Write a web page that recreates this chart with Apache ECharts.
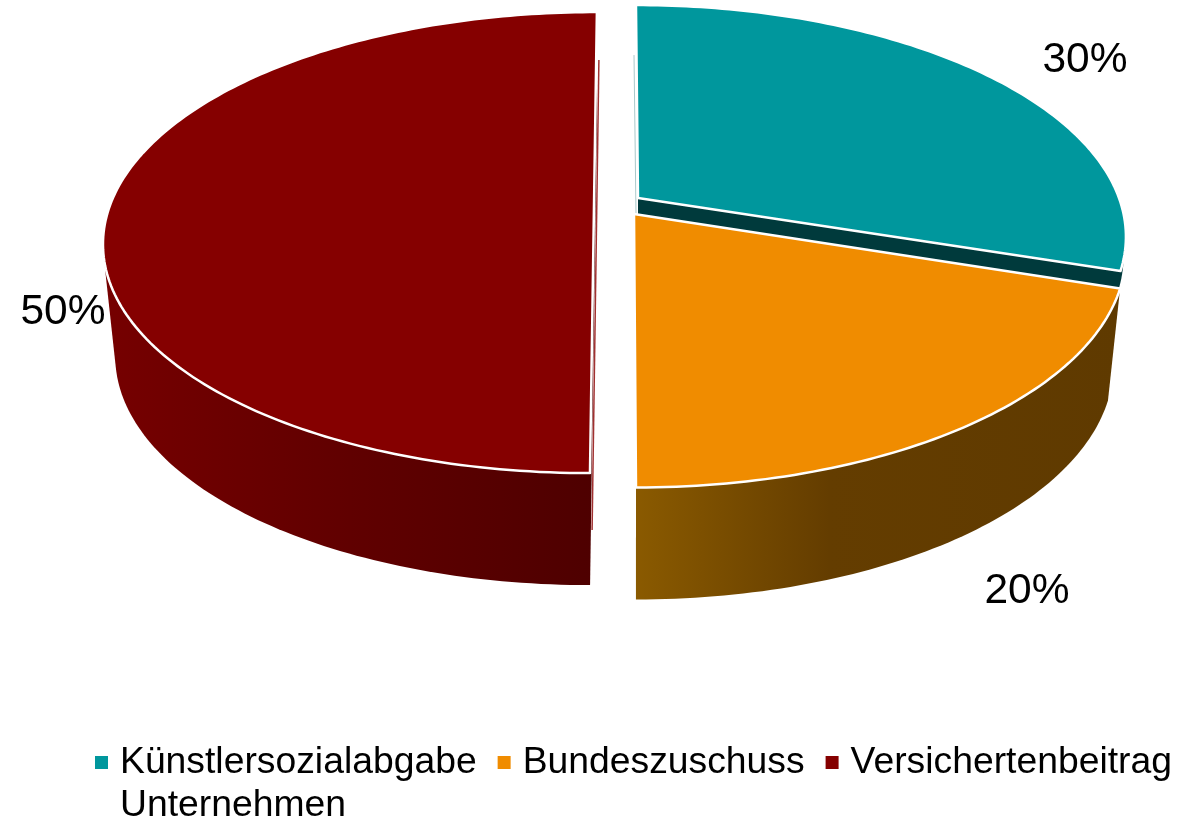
<!DOCTYPE html>
<html>
<head>
<meta charset="utf-8">
<style>html,body{margin:0;padding:0;background:#fff}#chart{width:1199px;height:818px}</style>
<script src="https://cdn.jsdelivr.net/npm/echarts@6/dist/echarts.min.js"></script>
</head>
<body>
<div id="chart"></div>
<script>
// Daten
const categories = ['Künstlersozialabgabe', 'Bundeszuschuss', 'Versichertenbeitrag Unternehmen'];
const shares = [30, 20, 50];
const colors = ['#00979d', '#f08c00', '#850000'];
const cutColors = ['#003a3c', null, null];
const wallStops = [
    [[0, '#003a3c'], [1, '#003a3c']],
    [[0, '#8a5a00'], [0.4, '#643d00'], [1, '#5f3a00']],
    [[0, '#760000'], [0.5, '#600000'], [1, '#4e0000']]
];

// Perspektive der Scheibe, jedes Stück ist etwas verschoben
const layout = [
    { x0: 638, y0: 198, sx: 1, sy: 1, shear: 0.0105, depth: 20, lowerScale: 0.995, label: [1085, 60],
      sliver: { color: '#a9c9ca', width: 1, dx: -2, top: 50, bottom: 0 } },
    { x0: 634, y0: 214, sx: 1.008, sy: 1.02, shear: 0.0073, depth: 112, lowerScale: 0.975, label: [1027, 591] },
    { x0: 594, y0: 205, sx: 1.006, sy: 1, shear: -0.015, depth: 112, lowerScale: 0.975, label: [63, 312],
      sliver: { color: '#a03030', width: 1.5, dx: 2, top: 48, bottom: 55 } }
];
const B = 481, A = 224.4, K = 0.163;
const total = shares.reduce((a, b) => a + b, 0);

function project(l, deg, lower) {
    const t = deg * Math.PI / 180;
    const u = Math.sin(t), v = Math.cos(t);
    const w = 1 + K * v;
    const dy = -A * l.sy * v / w;
    let x = l.x0 + B * l.sx * u / w + l.shear * dy;
    if (lower) x = l.x0 + (x - l.x0) * l.lowerScale;
    return [x, l.y0 + dy + (lower ? l.depth : 0)];
}

function arc(l, from, to, lower) {
    const pts = [];
    const n = Math.ceil(Math.abs(to - from));
    for (let i = 0; i <= n; i++) pts.push(project(l, from + (to - from) * i / n, lower));
    return pts;
}

// Umriss der Wand: konvexe Hülle aus oberem und unterem Bogen
function hull(points) {
    const pts = points.slice().sort((a, b) => a[0] - b[0] || a[1] - b[1]);
    const cross = (o, a, b) => (a[0] - o[0]) * (b[1] - o[1]) - (a[1] - o[1]) * (b[0] - o[0]);
    const half = list => {
        const out = [];
        list.forEach(p => {
            while (out.length >= 2 && cross(out[out.length - 2], out[out.length - 1], p) <= 0) out.pop();
            out.push(p);
        });
        out.pop();
        return out;
    };
    return half(pts).concat(half(pts.slice().reverse()));
}

function renderSlice(params, api) {
    const i = params.seriesIndex;
    const l = layout[i];
    const before = shares.slice(0, i).reduce((a, b) => a + b, 0);
    const from = before / total * 360;
    const to = from + api.value(0) / total * 360;
    const apex = [l.x0, l.y0];
    const upper = arc(l, from, to, false);
    const lowerPts = arc(l, from, to, true);
    const children = [];

    children.push({
        type: 'polygon',
        shape: { points: hull(upper.concat(lowerPts)) },
        style: { fill: new echarts.graphic.LinearGradient(0, 0, 1, 0,
            wallStops[i].map(s => ({ offset: s[0], color: s[1] }))) }
    });
    if (cutColors[i]) {
        children.push({   // Schnittfläche am Ende des Stücks
            type: 'polygon',
            shape: { points: [apex, project(l, to, false), project(l, to, true), [l.x0, l.y0 + l.depth]] },
            style: { fill: cutColors[i] }
        });
    }
    if (l.sliver) {
        const a = project(l, i === 2 ? to : from, false);
        const b = i === 2 ? project(l, from, true) : project(l, from, false);
        const s = l.sliver;
        children.push({
            type: 'line',
            shape: i === 2
                ? { x1: a[0] + s.dx, y1: a[1] + s.top, x2: b[0] + s.dx, y2: b[1] - s.bottom }
                : { x1: l.x0 - 4, y1: a[1] + s.top, x2: l.x0 - 2, y2: l.y0 + 16 },
            style: { stroke: s.color, lineWidth: s.width }
        });
    }
    children.push({   // Oberseite
        type: 'polygon',
        shape: { points: [apex].concat(upper) },
        style: { fill: colors[i], stroke: '#fff', lineWidth: 2.5, lineJoin: 'round' }
    });
    children.push({
        type: 'text',
        x: l.label[0],
        y: l.label[1],
        style: {
            text: api.value(0) + '%',
            fill: '#000',
            font: '42.5px "Liberation Sans", Arial, sans-serif',
            textAlign: 'center',
            textVerticalAlign: 'middle'
        }
    });
    return { type: 'group', children: children };
}

const option = {
    animation: false,
    backgroundColor: '#fff',
    legend: {
        left: 95,
        top: 744,
        padding: 0,
        itemWidth: 13,
        itemHeight: 13,
        itemGap: 21,
        icon: 'rect',
        data: categories,
        formatter: name => name.split(' ')[0],
        textStyle: {
            fontFamily: '"Liberation Sans", Arial, sans-serif',
            fontSize: 37.3,
            color: '#000',
            padding: [0, 0, 0, 7]
        }
    },
    graphic: [{
        type: 'text',
        left: 120,
        top: 787,
        style: {
            text: categories[2].split(' ')[1],
            fill: '#000',
            font: '37.3px "Liberation Sans", Arial, sans-serif'
        }
    }],
    series: categories.map((name, i) => ({
        type: 'custom',
        name: name,
        coordinateSystem: 'none',
        renderItem: renderSlice,
        itemStyle: { color: colors[i] },
        data: [shares[i]],
        silent: true
    }))
};

const chart = echarts.init(document.getElementById('chart'), null, { renderer: 'canvas' });
chart.setOption(option);
</script>
</body>
</html>
